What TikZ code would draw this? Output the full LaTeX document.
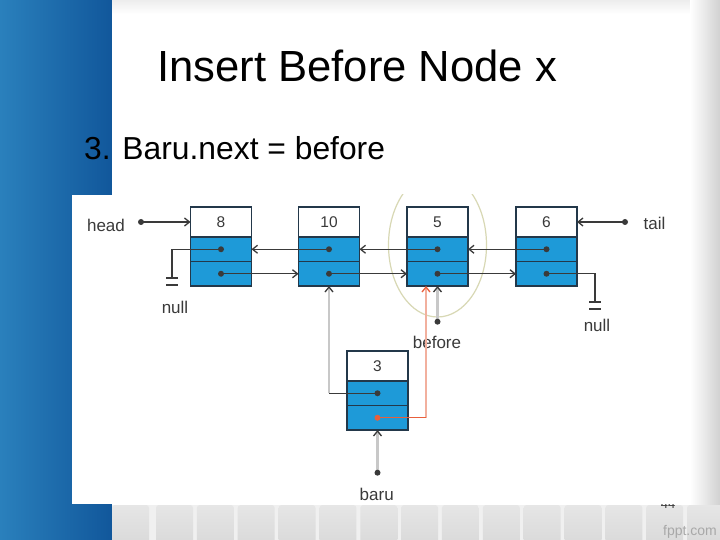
\documentclass[tikz,border=0pt]{standalone}
\usepackage{fontspec}
\setmainfont{Liberation Sans}
\usetikzlibrary{arrows.meta}
\definecolor{slideblueL}{HTML}{2A80BC}
\definecolor{slideblueR}{HTML}{11579B}
\definecolor{cellblue}{HTML}{1E9AD8}
\definecolor{boxline}{HTML}{23384A}
\definecolor{ink}{HTML}{3A3A3A}
\definecolor{paleline}{HTML}{C8C8C8}
\definecolor{ornline}{HTML}{F2B09E}
\definecolor{orndark}{HTML}{E8603C}
\definecolor{ellcol}{HTML}{D8D8B4}
\definecolor{tiletop}{HTML}{E6E6E6}
\definecolor{tilebot}{HTML}{D9D9D9}
\definecolor{fpptgrey}{HTML}{A8A8A8}
\begin{document}
\begin{tikzpicture}[x=1pt,y=-1pt,
  valcell/.style={draw=boxline, line width=1.5pt, fill=white, minimum width=61pt, minimum height=30pt, inner sep=0pt, outer sep=0pt, text=ink, font=\fontsize{15.5}{16}\selectfont},
  ptrcell/.style={draw=boxline, line width=1.5pt, fill=cellblue, minimum width=61pt, minimum height=24.5pt, inner sep=0pt, outer sep=0pt},
  lbl/.style={text=ink, font=\fontsize{17}{18}\selectfont, inner sep=0pt, anchor=base},
  link/.style={draw=ink, line width=1.3pt},
  arr/.style={-{Straight Barb[length=5pt,width=8pt,line width=1.3pt,color=ink]}},
  palelink/.style={draw=paleline, line width=2.2pt},
  orarr/.style={-{Straight Barb[length=5pt,width=8pt,line width=1.3pt,color=orndark]}},
  dotr/.style={radius=3}
]
\useasboundingbox (0,0) rectangle (720,540);
% slide background
\shade[left color=slideblueL, right color=slideblueR] (0,0) rectangle (112,540);
\fill[white] (112,0) rectangle (720,540);
\shade[top color=black!7, bottom color=white] (112,0) rectangle (720,14);
\shade[left color=white, right color=black!18] (690,0) rectangle (720,540);
\fill[black!6] (112,505) rectangle (720,540);
\foreach \tx in {112,156,196.85,237.7,278.55,319.4,360.25,401.1,441.95,482.8,523.65,564.5,605.35,646.2,687.05}
  \shade[top color=tiletop, bottom color=tilebot, rounded corners=3pt] (\tx,505) rectangle ++(37,40);
\node[text=ink, anchor=base, inner sep=0pt, font=\fontsize{13}{13}\selectfont] (pagenum) at (668,508.5) {44};
\node[anchor=base east, text=fpptgrey, inner sep=0pt, font=\fontsize{14}{14}\selectfont] (fppt) at (717,535) {fppt.com};
% picture area
\fill[white] (72,195) rectangle (680,504);
% title texts
\node[anchor=base west, inner sep=0pt, font=\fontsize{43.6}{50}\selectfont] (title) at (157,82) {Insert Before Node x};
\node[anchor=base west, inner sep=0pt, font=\fontsize{31.8}{36}\selectfont] (subtitle) at (84,160) {3. Baru.next = before};
% highlight ellipse
\begin{scope}
  \clip (72,195) rectangle (680,504);
  \draw[ellcol, line width=1.2pt] (437.5,245) ellipse [x radius=49, y radius=72];
\end{scope}
% list nodes
\foreach \v/\x/\y in {8/221/222, 10/329/222, 5/437.5/222, 6/546.5/222, 3/377.5/366} {
  \node[valcell] (v\v) at (\x,\y) {\v};
  \node[ptrcell] (p\v) at (\x,\y+27.25) {};
  \node[ptrcell] (n\v) at (\x,\y+51.75) {};
}
% labels
\node[lbl] (headlbl) at (106,231.5) {head};
\node[lbl] (taillbl) at (654.5,229.3) {tail};
\node[lbl] (nullL) at (175,313) {null};
\node[lbl] (nullR) at (597,331.5) {null};
\node[lbl] (beforelbl) at (437,348.3) {before};
\node[lbl] (barulbl) at (376.7,500) {baru};
\coordinate (headdot) at (141,222);
\coordinate (taildot) at (625,222);
\coordinate (gndL) at (172,278);
\coordinate (gndR) at (595,302);
\coordinate (beforedot) at (437.5,321.7);
\coordinate (barudot) at (377.5,472.7);
% head / tail
\draw[link,arr] (headdot) -- (v8.west);
\draw[link,arr] (taildot) -- (v6.east);
\fill[ink] (headdot) circle[dotr];
\fill[ink] (taildot) circle[dotr];
% next links
\draw[link,arr] (n8.center) -- (n10.west);
\draw[link,arr] (n10.center) -- (n5.west);
\draw[link,arr] (n5.center) -- (n6.west);
% prev links
\draw[link,arr] (p10.center) -- (p8.east);
\draw[link,arr] (p5.center) -- (p10.east);
\draw[link,arr] (p6.center) -- (p5.east);
% null grounds
\draw[link] (p8.center) -| (gndL);
\draw[link] ([shift={(-6,0)}]gndL) -- ([shift={(6,0)}]gndL);
\draw[link] ([shift={(-6,7)}]gndL) -- ([shift={(6,7)}]gndL);
\draw[link] (n6.center) -| (gndR);
\draw[link] ([shift={(-6,0)}]gndR) -- ([shift={(6,0)}]gndR);
\draw[link] ([shift={(-6,7)}]gndR) -- ([shift={(6,7)}]gndR);
% baru.prev -> node 10
\coordinate (bend10) at (n10.south |- p3.center);
\draw[palelink,arr] (bend10) -- (n10.south);
\draw[link] (p3.center) -- (bend10);
% baru.next -> before (orange)
\path (n3.center) ++(48.5,0) coordinate (bend5);
\coordinate (tip5) at (bend5 |- n5.south);
\draw[draw=ornline, line width=1.8pt, orarr] (bend5) -- (tip5);
\draw[draw=orndark, line width=1.3pt] (n3.center) -- (bend5);
% before and baru pointers
\draw[palelink,arr] (beforedot) -- (n5.south);
\draw[palelink,arr] (barudot) -- (n3.south);
\fill[ink] (beforedot) circle[dotr];
\fill[ink] (barudot) circle[dotr];
% dots in cells
\foreach \v in {8,10,5,6} {
  \fill[ink] (p\v.center) circle[dotr];
  \fill[ink] (n\v.center) circle[dotr];
}
\fill[ink] (p3.center) circle[dotr];
\fill[orndark] (n3.center) circle[dotr];
\end{tikzpicture}
\end{document}
